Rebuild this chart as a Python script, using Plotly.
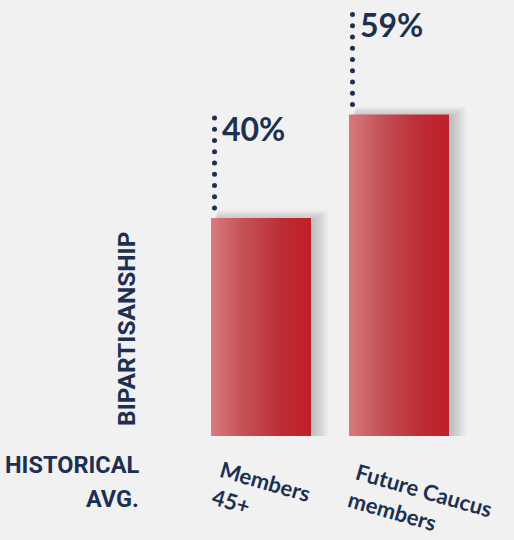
import plotly.graph_objects as go
import numpy as np

categories = ["Members<br>45+", "Future Caucus<br>members"]
values = [40, 59]
value_labels = ["40%", "59%"]
axis_title = "BIPARTISANSHIP"
baseline_label = "HISTORICAL<br>AVG."

NAVY = "#1e3050"
BG = "#f1f1f1"
W, H = 514, 540
ML, MR, MT, MB = 140, 6, 0, 104
PLOT_H = H - MT - MB
PLOT_W = W - ML - MR
YMAX = 80
XMIN, XMAX = -0.877, 1.79
PXY = PLOT_H / YMAX           # pixels per y unit
PXX = PLOT_W / (XMAX - XMIN)  # pixels per x unit
BAR_W = 100 / PXX
COND = "Roboto, sans-serif"

GRAD = [[0, "#d87a7e"], [0.3, "#c45459"], [0.7, "#bd2d35"], [1, "#c11f28"]]

fig = go.Figure()
shapes = []
for i, v in enumerate(values):
    x0, x1 = i - BAR_W / 2, i + BAR_W / 2
    # soft shadow
    for k in range(1, 10):
        shapes.append(dict(type="rect", xref="x", yref="y", layer="below",
                           x0=x0 + (2 + k * 0.5) / PXX, x1=x1 + (1 + k * 1.8) / PXX,
                           y0=0, y1=v + (k * 1.2 - 3) / PXY,
                           fillcolor="rgba(0,0,0,0.022)", line=dict(width=0)))
    fig.add_trace(go.Scatter(
        x=[x0, x1, x1, x0, x0], y=[0, 0, v, v, 0], fill="toself", mode="lines",
        line=dict(width=0), fillgradient=dict(type="horizontal", colorscale=GRAD),
        hoverinfo="skip", showlegend=False))
    # dotted leader
    dots_y = v + np.linspace(10, 100, 9) / PXY
    fig.add_trace(go.Scatter(
        x=[x0 + 3.5 / PXX] * len(dots_y), y=dots_y, mode="markers",
        marker=dict(size=5, color=NAVY), hoverinfo="skip", showlegend=False))

annotations = []
for i, (v, lab) in enumerate(zip(values, value_labels)):
    annotations.append(dict(x=i - BAR_W / 2, y=v, xref="x", yref="y", text=lab,
                            showarrow=False, xanchor="left", yanchor="middle",
                            xshift=9, yshift=90,
                            font=dict(family="Lato", size=32, color=NAVY, weight="bold")))

cat_shifts = [(0, -59), (21, -68)]
for i, (c, (dx, dy)) in enumerate(zip(categories, cat_shifts)):
    annotations.append(dict(x=i, y=0, xref="x", yref="y", text=c, showarrow=False,
                            textangle=16, align="left", xanchor="center", yanchor="middle",
                            xshift=dx, yshift=dy,
                            font=dict(family="Lato", size=22, color=NAVY, weight="bold")))

annotations.append(dict(x=0, y=1 - 328.5 / PLOT_H, xref="paper", yref="paper",
                        text=axis_title, showarrow=False, textangle=-90,
                        xanchor="center", yanchor="middle", xshift=-13.5,
                        font=dict(family=COND, size=24.5, color=NAVY, weight="bold")))
for line, dy in zip(baseline_label.split("<br>"), [-29, -63]):
    annotations.append(dict(x=0, y=0, xref="paper", yref="paper", text=line,
                            showarrow=False, align="right", xanchor="right", yanchor="middle",
                            xshift=1, yshift=dy,
                            font=dict(family=COND, size=23.5, color=NAVY, weight="bold")))

# baseline shadow + baseline
for k in range(1, 5):
    shapes.append(dict(type="rect", xref="paper", yref="y", ysizemode="pixel", yanchor=0,
                       x0=0, x1=1, y0=0, y1=-10 - k * 1.5, layer="above",
                       fillcolor="rgba(0,0,0,0.03)", line=dict(width=0)))
shapes.append(dict(type="rect", xref="paper", yref="y", ysizemode="pixel", yanchor=0,
                   x0=0, x1=1, y0=0, y1=-10, layer="above",
                   fillcolor=NAVY, line=dict(width=0)))

fig.update_layout(
    width=W, height=H, margin=dict(l=ML, r=MR, t=MT, b=MB),
    paper_bgcolor=BG, plot_bgcolor=BG,
    xaxis=dict(range=[XMIN, XMAX], visible=False, fixedrange=True),
    yaxis=dict(range=[0, YMAX], visible=False, fixedrange=True),
    shapes=shapes, annotations=annotations, showlegend=False,
)
fig.write_html("out.html")
